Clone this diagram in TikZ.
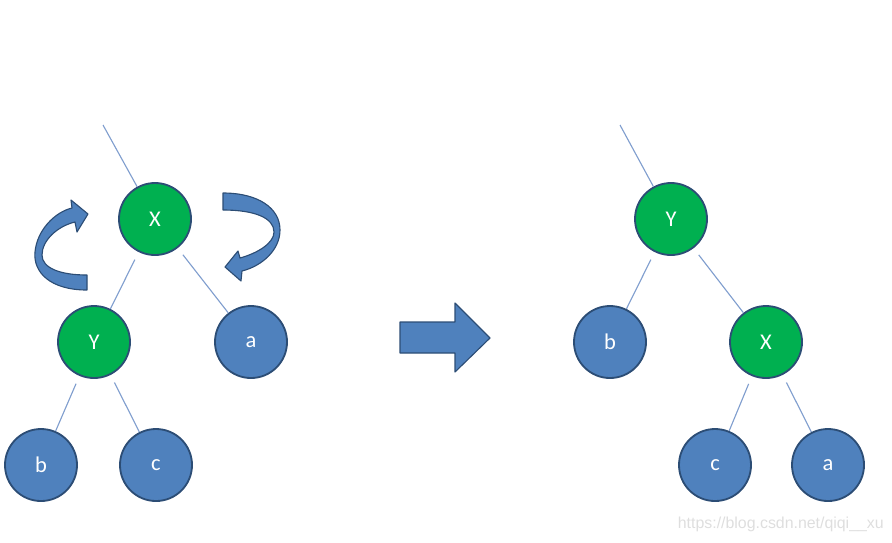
\documentclass[tikz,border=0pt]{standalone}
\usepackage{tikz}
\usepackage{xcolor}
\usepackage{fontspec}
\setmainfont{Carlito}
\newfontfamily\markfont{Liberation Sans}
\definecolor{treeGreen}{RGB}{0, 176, 80}
\definecolor{treeBlue}{RGB}{79, 129, 189}
\definecolor{treeBorder}{RGB}{44, 77, 117}
\definecolor{treeLine}{RGB}{128, 158, 206}
\definecolor{markGray}{RGB}{222, 222, 222}

\begin{document}
\begin{tikzpicture}[x=0.025cm, y=-0.025cm]
            \tikzstyle{keynode} = [circle, draw=treeBorder, fill=treeGreen, text=white, minimum size=1.8cm, line width=1.3pt, font=\fontsize{16}{18}\selectfont, inner sep=0pt]
            \tikzstyle{leafnode} = [circle, draw=treeBorder, fill=treeBlue, text=white, minimum size=1.8cm, line width=1.3pt, font=\fontsize{16}{18}\selectfont, inner sep=0pt]
            \tikzstyle{edge} = [treeLine, line width=0.8pt, shorten <=6pt]
            \tikzstyle{turnarrow} = [fill=treeBlue, draw=treeBorder, line width=0.8pt, line join=round]

            \useasboundingbox (0,0) rectangle (892,542);

            % before the rotation
            \coordinate (ltop) at (103,125);
            \node[keynode] (lx) at (155,219) {X};
            \node[keynode] (ly) at (94,342) {Y};
            \node[leafnode] (la) at (251,342) {a};
            \node[leafnode] (lb) at (41,465) {b};
            \node[leafnode] (lc) at (156,465) {c};

            \draw[treeLine, line width=0.8pt] (ltop) -- (lx);
            \draw[edge] (lx) -- (ly);
            \draw[edge] (lx) -- (la);
            \draw[edge] (ly) -- (lb);
            \draw[edge] (ly) -- (lc);

            % turning arrows
            \draw[turnarrow] (87,290) .. controls (50,290) and (33,272) .. (35,252)
                .. controls (37,230) and (55,212) .. (72,208) -- (71,200) -- (88,214)
                -- (77,232) -- (75,222) .. controls (58,226) and (42,240) .. (42,255)
                .. controls (42,268) and (60,275) .. (87,275) -- cycle;
            \draw[turnarrow] (223,193) .. controls (258,193) and (280,208) .. (280,230)
                .. controls (280,250) and (262,266) .. (242,271) -- (241,281) -- (225,267)
                -- (238,251) -- (240,258) .. controls (258,253) and (274,243) .. (274,232)
                .. controls (274,218) and (255,210) .. (223,210) -- cycle;

            % big arrow
            \draw[turnarrow] (400,322) -- (455,322) -- (455,303) -- (490,338)
                -- (455,372) -- (455,353) -- (400,353) -- cycle;

            % after the rotation
            \coordinate (rtop) at (620,125);
            \node[keynode] (ry) at (671,219) {Y};
            \node[leafnode] (rb) at (610,342) {b};
            \node[keynode] (rx) at (766,342) {X};
            \node[leafnode] (rc) at (715,465) {c};
            \node[leafnode] (ra) at (828,465) {a};

            \draw[treeLine, line width=0.8pt] (rtop) -- (ry);
            \draw[edge] (ry) -- (rb);
            \draw[edge] (ry) -- (rx);
            \draw[edge] (rx) -- (rc);
            \draw[edge] (rx) -- (ra);

            \node[anchor=east, text=markGray, font=\markfont\fontsize{11.3}{13}\selectfont, inner sep=0pt] (mark) at (884,524) {https://blog.csdn.net/qiqi\_\_xu};
        \end{tikzpicture}
\end{document}
